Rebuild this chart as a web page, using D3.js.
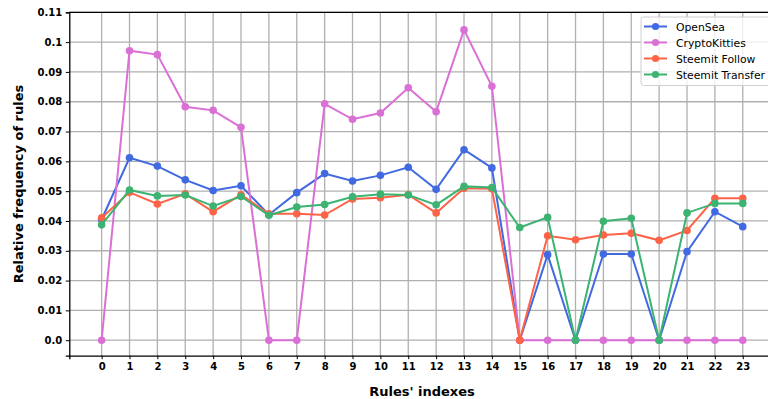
<!DOCTYPE html>
<html>
<head>
<meta charset="utf-8">
<script src="https://cdn.jsdelivr.net/npm/d3@7"></script>
<style>
  body { margin: 0; background: #fff; overflow: hidden; }
  svg { display: block; font-family: "DejaVu Sans", sans-serif; }
</style>
</head>
<body>
<div id="chart"></div>
<script>
// Index des règles (axe x)
const ruleIndexes = d3.range(0, 24);
const yTicks = [0.0, 0.01, 0.02, 0.03, 0.04, 0.05, 0.06, 0.07, 0.08, 0.09, 0.1, 0.11];

const openSea = [0.0405, 0.0612, 0.0584, 0.0538, 0.0502, 0.0518, 0.0421, 0.0495, 0.0559, 0.0534, 0.0553, 0.0580,
    0.0506, 0.0639, 0.0578, 0.0, 0.0287, 0.0, 0.0289, 0.0289, 0.0, 0.0297, 0.0431, 0.0381];
const cryptoKitties = [0.0, 0.0971, 0.0958, 0.0783, 0.0771, 0.0714, 0.0, 0.0, 0.0793, 0.0741, 0.0762, 0.0847,
    0.0766, 0.1041, 0.0852, 0.0, 0.0, 0.0, 0.0, 0.0, 0.0, 0.0, 0.0, 0.0];
const steemitFollow = [0.0411, 0.0496, 0.0457, 0.0491, 0.0431, 0.0488, 0.0424, 0.0424, 0.0420, 0.0474, 0.0478, 0.0488,
    0.0427, 0.0510, 0.0508, 0.0, 0.0350, 0.0337, 0.0353, 0.0359, 0.0335, 0.0368, 0.0476, 0.0476];
const steemitTransfer = [0.0387, 0.0504, 0.0484, 0.0487, 0.0450, 0.0482, 0.0419, 0.0447, 0.0455, 0.0481, 0.0490, 0.0487,
    0.0454, 0.0516, 0.0512, 0.0378, 0.0412, 0.0, 0.0399, 0.0409, 0.0, 0.0427, 0.0459, 0.0459];

const seriesNames = ['OpenSea', 'CryptoKitties', 'Steemit Follow', 'Steemit Transfer'];
const seriesColors = ['#4169e1', '#da70d6', '#ff6347', '#3cb371'];
const seriesValues = [openSea, cryptoKitties, steemitFollow, steemitTransfer];

const width = 768, height = 399;
const margin = { top: 12.3, right: -11, bottom: 43.3, left: 69.3 };
const innerW = width - margin.left - margin.right;
const innerH = height - margin.top - margin.bottom;

const svg = d3.select('#chart')
    .append('svg')
    .attr('width', width)
    .attr('height', height);

const g = svg.append('g')
    .attr('transform', `translate(${margin.left},${margin.top})`);

const x = d3.scaleLinear()
    .domain([-1.16, 24.3])
    .range([0, innerW]);

const y = d3.scaleLinear()
    .domain([-0.0052, 0.11])
    .range([innerH, 0]);

// Grille
g.append('g')
    .selectAll('line')
    .data(ruleIndexes)
    .enter()
    .append('line')
    .attr('x1', d => x(d)).attr('x2', d => x(d))
    .attr('y1', 0).attr('y2', innerH)
    .attr('stroke', '#b0b0b0')
    .attr('stroke-width', 1.3);

g.append('g')
    .selectAll('line')
    .data(yTicks)
    .enter()
    .append('line')
    .attr('x1', 0).attr('x2', innerW)
    .attr('y1', d => y(d)).attr('y2', d => y(d))
    .attr('stroke', '#b0b0b0')
    .attr('stroke-width', 1.3);

// Axes
const xAxis = g.append('g')
    .attr('transform', `translate(0,${innerH})`)
    .call(d3.axisBottom(x).tickValues(ruleIndexes).tickFormat(d3.format('d')).tickSize(3.5).tickPadding(3.5));

const yAxis = g.append('g')
    .call(d3.axisLeft(y).tickValues(yTicks).tickFormat(d => d === 0 ? '0.0' : String(+d.toFixed(2))).tickSize(3.5).tickPadding(3.5));

[xAxis, yAxis].forEach(ax => {
    ax.select('.domain').attr('stroke', '#000').attr('stroke-width', 1.3);
    ax.selectAll('.tick line').attr('stroke', '#000').attr('stroke-width', 1);
    ax.selectAll('text')
        .attr('fill', '#000')
        .style('font-size', '10px')
        .style('font-weight', 'bold')
        .style('font-family', '"DejaVu Sans", sans-serif');
});

// Bordure du haut
g.append('line')
    .attr('x1', 0).attr('x2', innerW)
    .attr('y1', 0).attr('y2', 0)
    .attr('stroke', '#000')
    .attr('stroke-width', 1.3);

// Séries
const line = d3.line()
    .x((d, i) => x(ruleIndexes[i]))
    .y(d => y(d));

seriesValues.forEach((vals, k) => {
    const sg = g.append('g');
    sg.append('path')
        .datum(vals)
        .attr('d', line)
        .attr('fill', 'none')
        .attr('stroke', seriesColors[k])
        .attr('stroke-width', 2);
    sg.selectAll('circle')
        .data(vals)
        .enter()
        .append('circle')
        .attr('cx', (d, i) => x(ruleIndexes[i]))
        .attr('cy', d => y(d))
        .attr('r', 3.8)
        .attr('fill', seriesColors[k]);
});

// Titres des axes
svg.append('text')
    .attr('x', 422)
    .attr('y', 396)
    .attr('text-anchor', 'middle')
    .style('font-size', '13px')
    .style('font-weight', 'bold')
    .text("Rules' indexes");

svg.append('text')
    .attr('transform', 'translate(23,184) rotate(-90)')
    .attr('text-anchor', 'middle')
    .style('font-size', '13px')
    .style('font-weight', 'bold')
    .text('Relative frequency of rules');

// Légende
const legend = svg.append('g').attr('transform', 'translate(641,17)');
legend.append('rect')
    .attr('x', 0).attr('y', 0)
    .attr('width', 134).attr('height', 68.5)
    .attr('rx', 2.5)
    .attr('fill', 'rgba(255,255,255,0.8)')
    .attr('stroke', '#d0d0d0')
    .attr('stroke-width', 1);

seriesNames.forEach((name, k) => {
    const ly = 9.5 + k * 16;
    legend.append('line')
        .attr('x1', 3).attr('x2', 26)
        .attr('y1', ly).attr('y2', ly)
        .attr('stroke', seriesColors[k])
        .attr('stroke-width', 2);
    legend.append('circle')
        .attr('cx', 14.5).attr('cy', ly)
        .attr('r', 3.6)
        .attr('fill', seriesColors[k]);
    legend.append('text')
        .attr('x', 35)
        .attr('y', ly + 4)
        .style('font-size', '10.8px')
        .attr('fill', '#000')
        .text(name);
});
</script>
</body>
</html>
